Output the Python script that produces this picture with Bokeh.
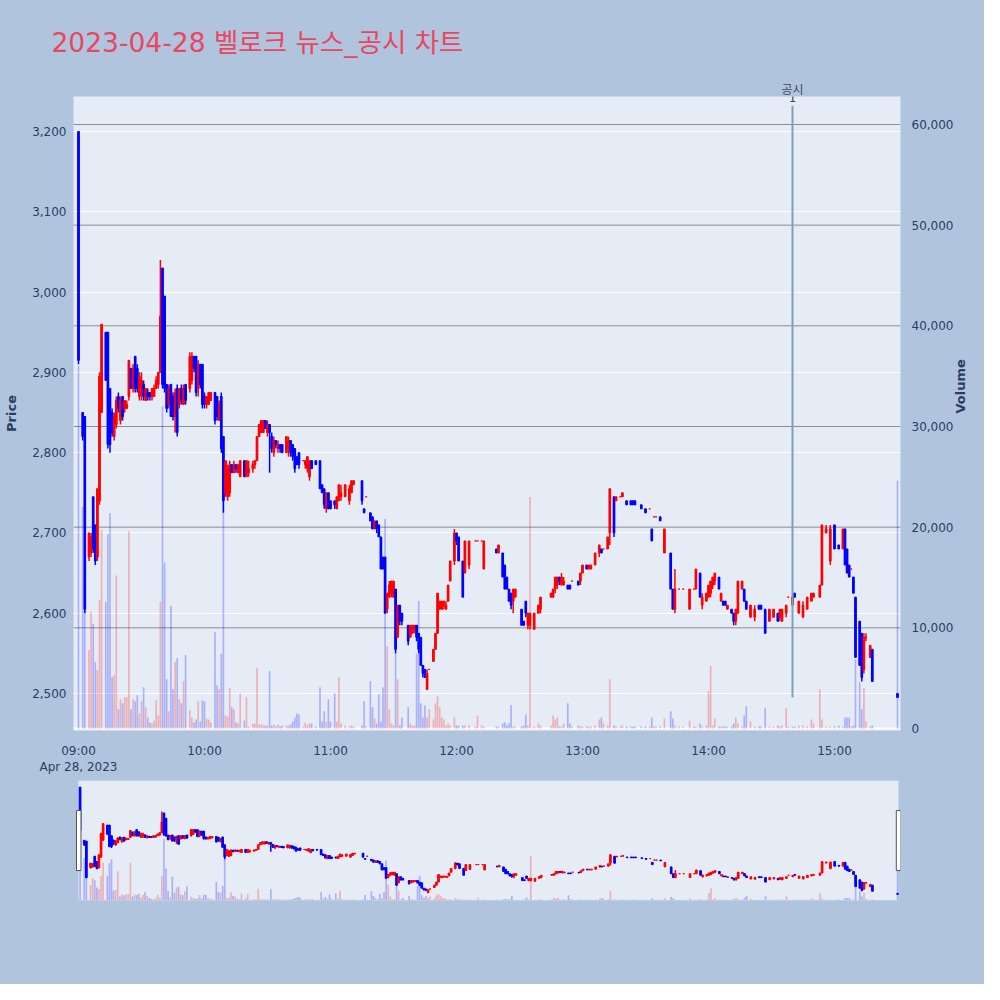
import math
from bokeh.plotting import figure
from bokeh.models import ColumnDataSource, Range1d, LinearAxis, FixedTicker, NumeralTickFormatter, Span, Label, Title
from bokeh.layouts import column
from bokeh.embed import file_html
from bokeh.resources import INLINE

# ---------------- data (minutes after 09:00, one-minute candles) ----------------
minute = [0, 2, 3, 5, 6, 7, 8, 9, 10, 11,
          13, 14, 15, 16, 17, 18, 19, 20, 21, 22,
          23, 24, 25, 26, 27, 28, 29, 30, 31, 32,
          33, 34, 35, 36, 37, 38, 39, 40, 41, 42,
          43, 44, 45, 46, 47, 48, 49, 50, 51, 53,
          54, 55, 56, 57, 58, 59, 60, 61, 62, 63,
          65, 66, 67, 68, 69, 70, 71, 72, 73, 74,
          75, 76, 77, 79, 80, 81, 83, 84, 85, 86,
          87, 88, 89, 90, 91, 92, 93, 94, 95, 96,
          97, 99, 100, 101, 102, 103, 104, 105, 107, 108,
          109, 110, 111, 113, 115, 116, 117, 118, 119, 120,
          122, 123, 124, 125, 127, 129, 130, 131, 135, 136,
          137, 139, 140, 141, 142, 143, 144, 145, 146, 147,
          148, 149, 150, 151, 152, 153, 154, 157, 158, 159,
          160, 161, 162, 163, 164, 165, 166, 167, 169, 170,
          171, 172, 173, 174, 175, 176, 177, 179, 180, 181,
          183, 184, 186, 189, 190, 192, 193, 199, 200, 202,
          203, 204, 205, 206, 207, 208, 211, 212, 213, 214,
          215, 217, 219, 220, 225, 226, 227, 228, 229, 230,
          231, 233, 234, 235, 238, 239, 240, 242, 243, 244,
          246, 248, 249, 250, 252, 253, 255, 256, 258, 259,
          261, 263, 264, 265, 268, 270, 272, 273, 274, 275,
          277, 279, 282, 283, 284, 286, 288, 291, 293, 294,
          296, 297, 299, 300, 301, 302, 303, 305, 306, 307,
          308, 309, 311, 312, 313, 314, 316, 317, 318, 320,
          322, 324, 325, 327, 329, 331, 333, 334, 335, 337,
          338, 340, 341, 343, 345, 347, 349, 350, 353, 354,
          356, 358, 360, 362, 364, 365, 366, 367, 368, 369,
          370, 372, 373, 374, 375, 377, 378, 390]

open_ = [3200, 2850, 2845, 2670, 2675, 2745, 2710, 2670, 2740, 2850,
         2950, 2950, 2880, 2850, 2820, 2835, 2870, 2840, 2870, 2855,
         2855, 2870, 2905, 2880, 2920, 2905, 2870, 2880, 2885, 2865,
         2875, 2875, 2870, 2870, 2880, 2885, 2900, 3030, 2995, 2885,
         2860, 2885, 2870, 2845, 2880, 2860, 2880, 2860, 2885, 2880,
         2890, 2920, 2920, 2880, 2910, 2910, 2870, 2860, 2860, 2865,
         2875, 2870, 2840, 2870, 2820, 2750, 2745, 2750, 2785, 2775,
         2785, 2775, 2770, 2790, 2770, 2775, 2780, 2785, 2790, 2820,
         2825, 2825, 2840, 2825, 2835, 2820, 2800, 2815, 2805, 2810,
         2810, 2800, 2805, 2815, 2810, 2805, 2795, 2800, 2790, 2785,
         2780, 2770, 2790, 2790, 2790, 2760, 2755, 2730, 2750, 2740,
         2740, 2730, 2740, 2745, 2745, 2740, 2750, 2760, 2765, 2730,
         2745, 2725, 2720, 2705, 2715, 2710, 2695, 2670, 2670, 2605,
         2620, 2625, 2620, 2630, 2570, 2610, 2600, 2585, 2570, 2575,
         2580, 2585, 2575, 2570, 2535, 2530, 2505, 2530, 2540, 2555,
         2575, 2605, 2605, 2610, 2605, 2615, 2640, 2665, 2700, 2695,
         2665, 2650, 2660, 2690, 2690, 2690, 2655, 2680, 2675, 2675,
         2660, 2645, 2630, 2625, 2615, 2620, 2605, 2590, 2615, 2585,
         2585, 2580, 2600, 2605, 2620, 2620, 2630, 2635, 2645, 2635,
         2635, 2635, 2635, 2640, 2640, 2640, 2650, 2660, 2655, 2655,
         2660, 2675, 2680, 2680, 2680, 2700, 2745, 2740, 2745, 2745,
         2740, 2740, 2740, 2740, 2735, 2730, 2730, 2705, 2720, 2720,
         2720, 2675, 2675, 2630, 2605, 2630, 2630, 2605, 2630, 2630,
         2650, 2610, 2615, 2620, 2625, 2635, 2640, 2645, 2615, 2615,
         2615, 2605, 2605, 2600, 2590, 2600, 2630, 2630, 2615, 2595,
         2595, 2610, 2610, 2605, 2590, 2595, 2600, 2595, 2590, 2600,
         2620, 2610, 2625, 2600, 2595, 2605, 2615, 2620, 2620, 2635,
         2700, 2665, 2710, 2685, 2680, 2705, 2680, 2660, 2655, 2645,
         2620, 2590, 2575, 2530, 2570, 2545, 2555, 2500]

high = [3200, 2850, 2845, 2700, 2700, 2745, 2710, 2755, 2900, 2960,
        2950, 2950, 2880, 2855, 2850, 2870, 2875, 2870, 2870, 2865,
        2865, 2915, 2905, 2910, 2920, 2910, 2900, 2900, 2890, 2880,
        2880, 2875, 2880, 2885, 2895, 2900, 3040, 3030, 2995, 2885,
        2885, 2885, 2875, 2880, 2885, 2880, 2885, 2885, 2885, 2925,
        2925, 2920, 2920, 2915, 2910, 2910, 2875, 2870, 2875, 2875,
        2875, 2870, 2865, 2875, 2820, 2790, 2785, 2790, 2785, 2790,
        2785, 2785, 2790, 2790, 2790, 2790, 2790, 2790, 2820, 2835,
        2840, 2840, 2840, 2840, 2835, 2825, 2820, 2815, 2815, 2810,
        2810, 2820, 2820, 2815, 2810, 2805, 2795, 2800, 2790, 2790,
        2795, 2790, 2790, 2790, 2790, 2760, 2755, 2750, 2750, 2740,
        2740, 2745, 2760, 2760, 2760, 2760, 2765, 2765, 2765, 2730,
        2745, 2725, 2720, 2715, 2715, 2710, 2695, 2670, 2670, 2625,
        2640, 2640, 2640, 2630, 2610, 2610, 2600, 2585, 2585, 2585,
        2585, 2585, 2575, 2570, 2535, 2530, 2530, 2530, 2555, 2575,
        2625, 2615, 2615, 2615, 2615, 2635, 2665, 2705, 2700, 2695,
        2665, 2690, 2690, 2690, 2690, 2690, 2690, 2680, 2685, 2675,
        2660, 2645, 2630, 2625, 2630, 2630, 2605, 2590, 2615, 2600,
        2600, 2600, 2610, 2620, 2625, 2630, 2645, 2645, 2645, 2650,
        2645, 2635, 2635, 2640, 2640, 2650, 2660, 2660, 2660, 2660,
        2675, 2685, 2680, 2680, 2695, 2755, 2745, 2745, 2745, 2750,
        2740, 2740, 2740, 2740, 2735, 2730, 2730, 2705, 2720, 2720,
        2720, 2705, 2675, 2630, 2655, 2630, 2630, 2630, 2630, 2655,
        2650, 2625, 2625, 2635, 2640, 2645, 2650, 2645, 2625, 2615,
        2615, 2610, 2605, 2600, 2605, 2640, 2640, 2630, 2615, 2610,
        2610, 2610, 2610, 2605, 2605, 2605, 2600, 2605, 2605, 2610,
        2620, 2620, 2625, 2615, 2615, 2620, 2625, 2625, 2635, 2710,
        2710, 2710, 2710, 2685, 2705, 2705, 2680, 2660, 2655, 2645,
        2620, 2590, 2575, 2575, 2575, 2560, 2555, 2500]

low = [2910, 2815, 2600, 2665, 2670, 2675, 2660, 2665, 2735, 2850,
       2890, 2805, 2800, 2820, 2815, 2830, 2850, 2835, 2840, 2850,
       2855, 2865, 2880, 2875, 2875, 2875, 2865, 2865, 2865, 2865,
       2865, 2865, 2865, 2870, 2880, 2880, 2900, 2880, 2875, 2850,
       2855, 2845, 2840, 2825, 2820, 2855, 2860, 2860, 2860, 2875,
       2885, 2900, 2870, 2870, 2880, 2855, 2855, 2855, 2860, 2865,
       2835, 2840, 2840, 2800, 2725, 2745, 2740, 2745, 2775, 2775,
       2775, 2775, 2770, 2770, 2770, 2770, 2775, 2780, 2790, 2820,
       2825, 2825, 2830, 2820, 2775, 2800, 2795, 2805, 2800, 2800,
       2800, 2800, 2795, 2795, 2790, 2775, 2785, 2780, 2790, 2780,
       2775, 2765, 2780, 2785, 2755, 2750, 2730, 2725, 2730, 2730,
       2730, 2730, 2740, 2740, 2745, 2735, 2750, 2760, 2735, 2725,
       2745, 2715, 2705, 2705, 2700, 2695, 2655, 2655, 2600, 2600,
       2620, 2620, 2620, 2550, 2570, 2585, 2585, 2560, 2570, 2575,
       2575, 2565, 2550, 2535, 2520, 2520, 2505, 2530, 2540, 2555,
       2575, 2605, 2605, 2605, 2605, 2615, 2640, 2660, 2685, 2665,
       2620, 2650, 2655, 2690, 2690, 2690, 2655, 2675, 2675, 2645,
       2630, 2630, 2615, 2605, 2600, 2620, 2585, 2585, 2595, 2580,
       2580, 2580, 2600, 2600, 2620, 2620, 2625, 2630, 2635, 2635,
       2635, 2630, 2630, 2640, 2635, 2635, 2650, 2655, 2655, 2655,
       2660, 2670, 2675, 2680, 2680, 2685, 2695, 2740, 2745, 2745,
       2735, 2735, 2735, 2735, 2730, 2725, 2730, 2690, 2720, 2720,
       2715, 2675, 2630, 2605, 2600, 2630, 2630, 2605, 2630, 2630,
       2620, 2605, 2615, 2620, 2620, 2630, 2635, 2630, 2615, 2610,
       2610, 2605, 2600, 2585, 2585, 2600, 2630, 2615, 2605, 2595,
       2590, 2605, 2605, 2575, 2590, 2595, 2590, 2590, 2590, 2595,
       2620, 2610, 2620, 2600, 2595, 2605, 2615, 2620, 2620, 2635,
       2700, 2660, 2680, 2680, 2680, 2660, 2650, 2645, 2655, 2625,
       2545, 2535, 2515, 2525, 2565, 2545, 2515, 2495]

close = [2915, 2820, 2605, 2700, 2695, 2680, 2665, 2755, 2895, 2960,
         2890, 2810, 2810, 2825, 2845, 2865, 2855, 2865, 2845, 2865,
         2860, 2915, 2880, 2905, 2880, 2880, 2895, 2890, 2870, 2880,
         2870, 2870, 2880, 2880, 2890, 2900, 2970, 2885, 2880, 2855,
         2880, 2845, 2845, 2875, 2825, 2880, 2865, 2880, 2865, 2920,
         2920, 2905, 2875, 2910, 2885, 2860, 2860, 2870, 2875, 2875,
         2840, 2845, 2860, 2805, 2740, 2790, 2780, 2785, 2775, 2785,
         2780, 2785, 2790, 2770, 2790, 2780, 2785, 2790, 2820, 2835,
         2840, 2840, 2830, 2835, 2825, 2805, 2815, 2810, 2810, 2805,
         2800, 2820, 2815, 2800, 2795, 2780, 2785, 2785, 2790, 2790,
         2795, 2790, 2780, 2785, 2755, 2750, 2735, 2750, 2730, 2730,
         2735, 2745, 2760, 2750, 2760, 2755, 2765, 2765, 2740, 2725,
         2745, 2715, 2705, 2715, 2705, 2695, 2655, 2655, 2600, 2625,
         2635, 2640, 2640, 2555, 2610, 2590, 2590, 2565, 2585, 2585,
         2585, 2570, 2555, 2535, 2525, 2520, 2525, 2530, 2555, 2575,
         2625, 2615, 2615, 2615, 2610, 2635, 2665, 2700, 2690, 2665,
         2620, 2690, 2690, 2690, 2690, 2690, 2690, 2675, 2685, 2645,
         2630, 2630, 2615, 2610, 2630, 2630, 2585, 2585, 2600, 2600,
         2600, 2600, 2610, 2620, 2625, 2630, 2645, 2645, 2640, 2645,
         2640, 2630, 2630, 2640, 2635, 2650, 2660, 2655, 2660, 2660,
         2675, 2685, 2675, 2680, 2695, 2755, 2700, 2745, 2745, 2750,
         2735, 2735, 2735, 2735, 2730, 2725, 2730, 2690, 2720, 2720,
         2715, 2705, 2630, 2605, 2630, 2630, 2630, 2630, 2630, 2655,
         2620, 2620, 2625, 2635, 2640, 2645, 2650, 2630, 2625, 2610,
         2610, 2610, 2600, 2590, 2605, 2640, 2640, 2615, 2605, 2610,
         2605, 2605, 2605, 2575, 2605, 2605, 2590, 2605, 2605, 2610,
         2620, 2620, 2620, 2615, 2610, 2620, 2625, 2625, 2635, 2710,
         2705, 2705, 2680, 2680, 2705, 2660, 2650, 2645, 2655, 2625,
         2545, 2535, 2520, 2570, 2570, 2560, 2515, 2495]

volume = [36000, 22000, 14700, 7800, 11600, 10400, 6600, 5800, 12800, 19700,
          12600, 19300, 21400, 5100, 5300, 15200, 1900, 2900, 2500, 3100,
          3100, 19600, 1900, 2900, 2700, 3300, 1500, 2700, 4100, 2100,
          1100, 600, 500, 800, 2800, 1300, 12600, 32000, 16500, 4900,
          1700, 12200, 3900, 6600, 7000, 2900, 2500, 4700, 7300, 1800,
          1100, 600, 900, 2700, 700, 2800, 2700, 1000, 900, 600,
          9600, 4300, 3900, 7400, 22600, 1300, 1200, 4000, 2100, 1900,
          600, 500, 3500, 800, 3100, 200, 500, 500, 6000, 400,
          400, 300, 300, 300, 5700, 300, 400, 200, 400, 200,
          300, 300, 300, 400, 700, 1100, 1500, 1400, 200, 600,
          300, 500, 500, 200, 4100, 700, 1700, 700, 2900, 700,
          3500, 700, 5100, 500, 300, 200, 300, 200, 300, 2700,
          200, 4700, 2100, 1000, 500, 3400, 700, 4100, 20800, 8200,
          1900, 500, 300, 7500, 4900, 300, 1100, 2100, 500, 300,
          300, 7400, 12700, 2500, 1100, 2300, 1100, 1900, 900, 2500,
          3200, 2100, 1100, 900, 300, 500, 300, 1100, 300, 300,
          300, 300, 300, 200, 1300, 300, 200, 200, 200, 500,
          600, 300, 500, 2300, 200, 200, 200, 300, 1400, 300,
          23000, 200, 500, 300, 300, 1300, 900, 1100, 200, 200,
          500, 2500, 500, 200, 300, 200, 200, 200, 200, 200,
          300, 900, 1100, 500, 300, 4900, 300, 200, 200, 300,
          200, 200, 200, 200, 200, 200, 200, 1100, 200, 200,
          200, 1000, 1700, 1000, 300, 200, 200, 800, 200, 200,
          500, 200, 300, 3700, 6200, 300, 1000, 200, 200, 200,
          200, 200, 200, 500, 1100, 500, 200, 1300, 2200, 700,
          200, 200, 200, 2000, 200, 200, 300, 200, 300, 2000,
          200, 200, 200, 300, 300, 200, 900, 500, 3900, 900,
          200, 200, 200, 300, 200, 1100, 1100, 1100, 200, 300,
          6900, 4600, 1900, 4000, 700, 200, 300, 24600]

title_text = "2023-04-28 벨로크 뉴스_공시 차트"
hour_ticks = [0, 60, 120, 180, 240, 300, 360]
hour_labels = ["09:00", "10:00", "11:00", "12:00", "13:00", "14:00", "15:00"]
date_text = "Apr 28, 2023"
price_ticks = [2500, 2600, 2700, 2800, 2900, 3000, 3100, 3200]
volume_ticks = [0, 10000, 20000, 30000, 40000, 50000, 60000]
event_minute = [340]
event_name = ["공시"]
event_number = ["1"]

n = len(minute)
assert all(len(a) == n for a in (open_, high, low, close, volume)), [len(a) for a in (minute, open_, high, low, close, volume)]

# ---------------- styles ----------------
BG = "#b0c4de"
PLOT_BG = "#e5ecf6"
UP = "#ff0000"
DOWN = "#0000ff"
TXT = "#2a3f5f"
FONT = "DejaVu Sans"
KFONT = "DejaVu Sans, Noto Sans CJK KR"

colors = [UP if c >= o else DOWN for o, c in zip(open_, close)]
src = ColumnDataSource(dict(
    x=minute, high=high, low=low,
    top=[max(o, c) for o, c in zip(open_, close)],
    bottom=[min(o, c) for o, c in zip(open_, close)],
    vol=volume, color=colors))

X0, X1 = -2.38, 391.43
P0, P1 = 2453.9, 3243.6
V0, V1 = -200, 62780

# ---------------- main chart ----------------
p = figure(width=984, height=780, title=None,
           x_range=Range1d(X0, X1), y_range=Range1d(P0, P1),
           output_backend="svg", toolbar_location=None,
           min_border_left=73, min_border_right=84, min_border_top=96, min_border_bottom=50,
           background_fill_color=PLOT_BG, border_fill_color=BG, outline_line_color=None)
p.extra_y_ranges = {"vol": Range1d(V0, V1)}

ax = p.below[0]
ay = p.left[0]

# event label axis directly above the frame (added first -> closest to frame)
ev_axis = LinearAxis(ticker=FixedTicker(ticks=event_minute))
ev_axis.major_label_overrides = {m: t for m, t in zip(event_minute, event_name)}
p.add_layout(ev_axis, "above")

p.add_layout(Title(text=title_text, align="left", offset=-22, standoff=43,
                   text_font=KFONT, text_font_size="26.5px", text_font_style="normal",
                   text_color="#e8475f"), "above")

p.xgrid.visible = False
p.ygrid.ticker = FixedTicker(ticks=price_ticks)
p.ygrid.grid_line_color = "white"
p.ygrid.grid_line_width = 1

for v in volume_ticks:
    if v == 0:
        p.add_layout(Span(location=v, dimension="width", y_range_name="vol",
                          line_color="white", line_width=2, level="underlay"))
    else:
        p.add_layout(Span(location=v, dimension="width", y_range_name="vol",
                          line_color="#8c8c8c", line_width=1, level="underlay"))

ax.ticker = FixedTicker(ticks=hour_ticks)
overrides = {t: lab for t, lab in zip(hour_ticks, hour_labels)}
overrides[hour_ticks[0]] = hour_labels[0] + "\n" + date_text
ax.major_label_overrides = overrides

ay.ticker = FixedTicker(ticks=price_ticks)
ay.formatter = NumeralTickFormatter(format="0,0")
ay.axis_label = "Price"
ay.axis_label_standoff = 10

ry = LinearAxis(y_range_name="vol", ticker=FixedTicker(ticks=volume_ticks),
                formatter=NumeralTickFormatter(format="0,0"))
ry.axis_label = "Volume"
ry.axis_label_standoff = 4
if "axis_label_orientation" in ry.properties():
    ry.axis_label_orientation = math.pi / 2
p.add_layout(ry, "right")

for a, stand in ((ax, 7), (ay, 1), (ry, 5), (ev_axis, -6)):
    a.axis_line_color = None
    a.major_tick_line_color = None
    a.minor_tick_line_color = None
    a.major_label_text_color = TXT
    a.major_label_text_font = KFONT
    a.major_label_text_font_size = "12px"
    a.major_label_standoff = stand
    a.axis_label_text_font = FONT
    a.axis_label_text_font_size = "13px"
    a.axis_label_text_font_style = "bold"
    a.axis_label_text_color = TXT
ev_axis.major_label_text_color = "#3c4858"

# volume bars
p.vbar(x="x", width=0.8, top="vol", bottom=0, y_range_name="vol", source=src,
       fill_color="color", fill_alpha=0.25, line_color=None)
# candles
p.segment(x0="x", y0="low", x1="x", y1="high", line_color="color", line_width=1.5, source=src)
p.vbar(x="x", width=0.8, top="top", bottom="bottom", source=src,
       fill_color="color", line_color="color", line_width=1)

# event marker
EV_Y0, EV_Y1 = 2495, 3232
p.segment(x0=event_minute, y0=[EV_Y0] * len(event_minute), x1=event_minute,
          y1=[EV_Y1] * len(event_minute), line_color="#7ba2b8", line_width=2)
for m, num in zip(event_minute, event_number):
    p.add_layout(Label(x=m, y=3242, text=num, text_align="center", text_baseline="middle",
                       text_font=FONT, text_font_size="12px", text_color="#3c4858"))

# ---------------- range slider ----------------
SX0, SX1 = -3.135, 391.40
s = figure(width=984, height=204, title=None,
           x_range=Range1d(SX0, SX1), y_range=Range1d(P0, P1),
           output_backend="svg", toolbar_location=None,
           x_axis_type=None, y_axis_type=None,
           min_border_left=73, min_border_right=84, min_border_top=0, min_border_bottom=84,
           background_fill_color=BG, border_fill_color=BG, outline_line_color=None)
s.extra_y_ranges = {"vol": Range1d(V0, V1)}
s.grid.visible = False
s.quad(left=[-0.75], right=[390.45], bottom=[P0], top=[P1], fill_color=PLOT_BG, line_color=None)
s.vbar(x="x", width=0.8, top="vol", bottom=0, y_range_name="vol", source=src,
       fill_color="color", fill_alpha=0.25, line_color=None)
s.segment(x0="x", y0="low", x1="x", y1="high", line_color="color", line_width=1.5, source=src)
s.vbar(x="x", width=0.8, top="top", bottom="bottom", source=src,
       fill_color="color", line_color="color", line_width=1)
s.quad(left=[-1.70, 389.4], right=[0.44, 391.6], bottom=[2651, 2651], top=[3046, 3046],
       fill_color="white", line_color="#555555", line_width=1)

layout = column(p, s, spacing=0, styles={"background-color": BG})
with open("out.html", "w", encoding="utf-8") as f:
    f.write(file_html(layout, INLINE, title="chart"))
